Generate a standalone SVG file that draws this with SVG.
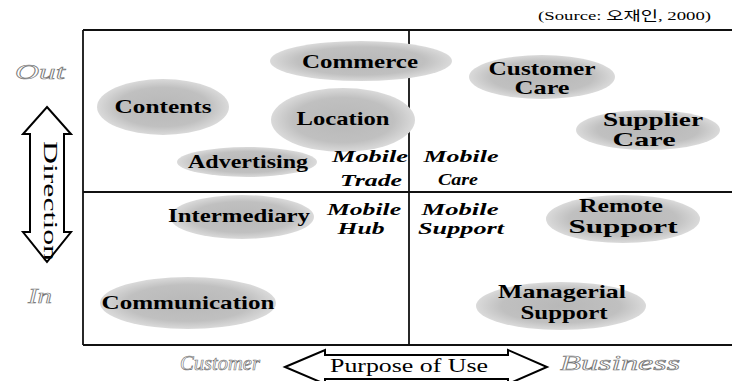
<svg xmlns="http://www.w3.org/2000/svg" width="732" height="381" viewBox="0 0 732 381">
<defs>
<radialGradient id="gr" cx="50%" cy="50%" r="50%">
<stop offset="0" stop-color="#b8b8b8"/>
<stop offset="0.7" stop-color="#c0c0c0"/>
<stop offset="1" stop-color="#dadada"/>
</radialGradient>
<style>
.bub{fill:url(#gr);stroke:none}
.lbl{font-family:"Liberation Serif",serif;font-weight:bold;font-size:19px;fill:#000;text-anchor:middle}
.mob{font-family:"Liberation Serif",serif;font-weight:bold;font-style:italic;font-size:17px;fill:#000;text-anchor:middle}
.axt{font-family:"Liberation Serif",serif;font-style:italic;font-size:22px;fill:#fff;stroke:#777;stroke-width:0.7;text-anchor:middle}
.frm{stroke:#111;stroke-width:1.8;fill:none}
.arr{fill:#fff;stroke:#000;stroke-width:2;stroke-linejoin:miter}
.src{font-family:"Liberation Serif","Noto Sans CJK KR",serif;font-size:13px;fill:#000}
.plain{font-family:"Liberation Serif",serif;font-size:19px;fill:#000;text-anchor:middle}
</style>
</defs>
<rect width="732" height="381" fill="#fff"/>
<text class="src" x="538" y="20" textLength="173" lengthAdjust="spacingAndGlyphs">(Source: 오재인, 2000)</text>
<g id="frame">
<line class="frm" x1="83" y1="30" x2="732" y2="30"/>
<line class="frm" x1="83" y1="345" x2="732" y2="345"/>
<line class="frm" x1="83" y1="30" x2="83" y2="345"/>
<line class="frm" x1="83" y1="192" x2="732" y2="192"/>
<line class="frm" x1="409" y1="30" x2="409" y2="345"/>
</g>
<g id="commerce"><ellipse class="bub" cx="361" cy="61" rx="91" ry="20"/><text class="lbl" x="360" y="68" textLength="116" lengthAdjust="spacingAndGlyphs">Commerce</text></g>
<g id="contents"><ellipse class="bub" cx="163" cy="107" rx="66" ry="28"/><text class="lbl" x="163" y="113" textLength="97" lengthAdjust="spacingAndGlyphs">Contents</text></g>
<g id="location"><ellipse class="bub" cx="343" cy="120" rx="72" ry="32"/><text class="lbl" x="343" y="125" textLength="93" lengthAdjust="spacingAndGlyphs">Location</text></g>
<g id="advertising"><ellipse class="bub" cx="247" cy="162" rx="70" ry="15"/><text class="lbl" x="248" y="168" textLength="120" lengthAdjust="spacingAndGlyphs">Advertising</text></g>
<g id="customer-care"><ellipse class="bub" cx="542" cy="77" rx="73" ry="22"/><text class="lbl" x="542" y="75" textLength="107" lengthAdjust="spacingAndGlyphs">Customer</text><text class="lbl" x="542" y="94" textLength="55" lengthAdjust="spacingAndGlyphs">Care</text></g>
<g id="supplier-care"><ellipse class="bub" cx="648" cy="130" rx="72" ry="20"/><text class="lbl" x="653" y="126" textLength="100" lengthAdjust="spacingAndGlyphs">Supplier</text><text class="lbl" x="644" y="146" textLength="63" lengthAdjust="spacingAndGlyphs">Care</text></g>
<g id="intermediary"><ellipse class="bub" cx="242" cy="217" rx="72" ry="22"/><text class="lbl" x="239" y="222" textLength="142" lengthAdjust="spacingAndGlyphs">Intermediary</text></g>
<g id="remote-support"><ellipse class="bub" cx="623" cy="219" rx="77" ry="24"/><text class="lbl" x="621" y="212" textLength="84" lengthAdjust="spacingAndGlyphs">Remote</text><text class="lbl" x="623" y="233" textLength="109" lengthAdjust="spacingAndGlyphs">Support</text></g>
<g id="managerial-support"><ellipse class="bub" cx="561" cy="306" rx="85" ry="24"/><text class="lbl" x="562" y="298" textLength="128" lengthAdjust="spacingAndGlyphs">Managerial</text><text class="lbl" x="564" y="319" textLength="87" lengthAdjust="spacingAndGlyphs">Support</text></g>
<g id="communication"><ellipse class="bub" cx="188" cy="303" rx="88" ry="26"/><text class="lbl" x="188" y="309" textLength="173" lengthAdjust="spacingAndGlyphs">Communication</text></g>
<g id="mobile-trade"><text class="mob" x="370" y="162" textLength="76" lengthAdjust="spacingAndGlyphs">Mobile</text><text class="mob" x="371" y="186" textLength="62" lengthAdjust="spacingAndGlyphs">Trade</text></g>
<g id="mobile-care"><text class="mob" x="461" y="162" textLength="75" lengthAdjust="spacingAndGlyphs">Mobile</text><text class="mob" x="458" y="185" textLength="40" lengthAdjust="spacingAndGlyphs">Care</text></g>
<g id="mobile-hub"><text class="mob" x="364" y="215" textLength="74" lengthAdjust="spacingAndGlyphs">Mobile</text><text class="mob" x="361" y="234" textLength="47" lengthAdjust="spacingAndGlyphs">Hub</text></g>
<g id="mobile-support"><text class="mob" x="460" y="215" textLength="77" lengthAdjust="spacingAndGlyphs">Mobile</text><text class="mob" x="461" y="234" textLength="86" lengthAdjust="spacingAndGlyphs">Support</text></g>
<g id="connectors">
<g id="direction-axis">
<polygon class="arr" points="47,107 71,134 64,134 64,232 71,232 47,262 23,232 30,232 30,134 23,134"/>
<text class="plain" transform="translate(44,201) rotate(90)" x="0" y="0" font-size="24" textLength="120" lengthAdjust="spacingAndGlyphs">Direction</text>
</g>
<g id="purpose-axis">
<polygon class="arr" points="285,367 325,350 325,355 508,355 508,350 547,367 508,384 508,379 325,379 325,384"/>
<text class="plain" x="409" y="372" font-size="18" textLength="158" lengthAdjust="spacingAndGlyphs">Purpose of Use</text>
</g>
</g>
<g id="axis-labels">
<text class="axt" x="40" y="79" textLength="50" lengthAdjust="spacingAndGlyphs">Out</text>
<text class="axt" x="40" y="303" textLength="24" lengthAdjust="spacingAndGlyphs">In</text>
<text class="axt" x="220" y="370" textLength="80" lengthAdjust="spacingAndGlyphs">Customer</text>
<text class="axt" x="620" y="370" textLength="120" lengthAdjust="spacingAndGlyphs">Business</text>
</g>
</svg>
